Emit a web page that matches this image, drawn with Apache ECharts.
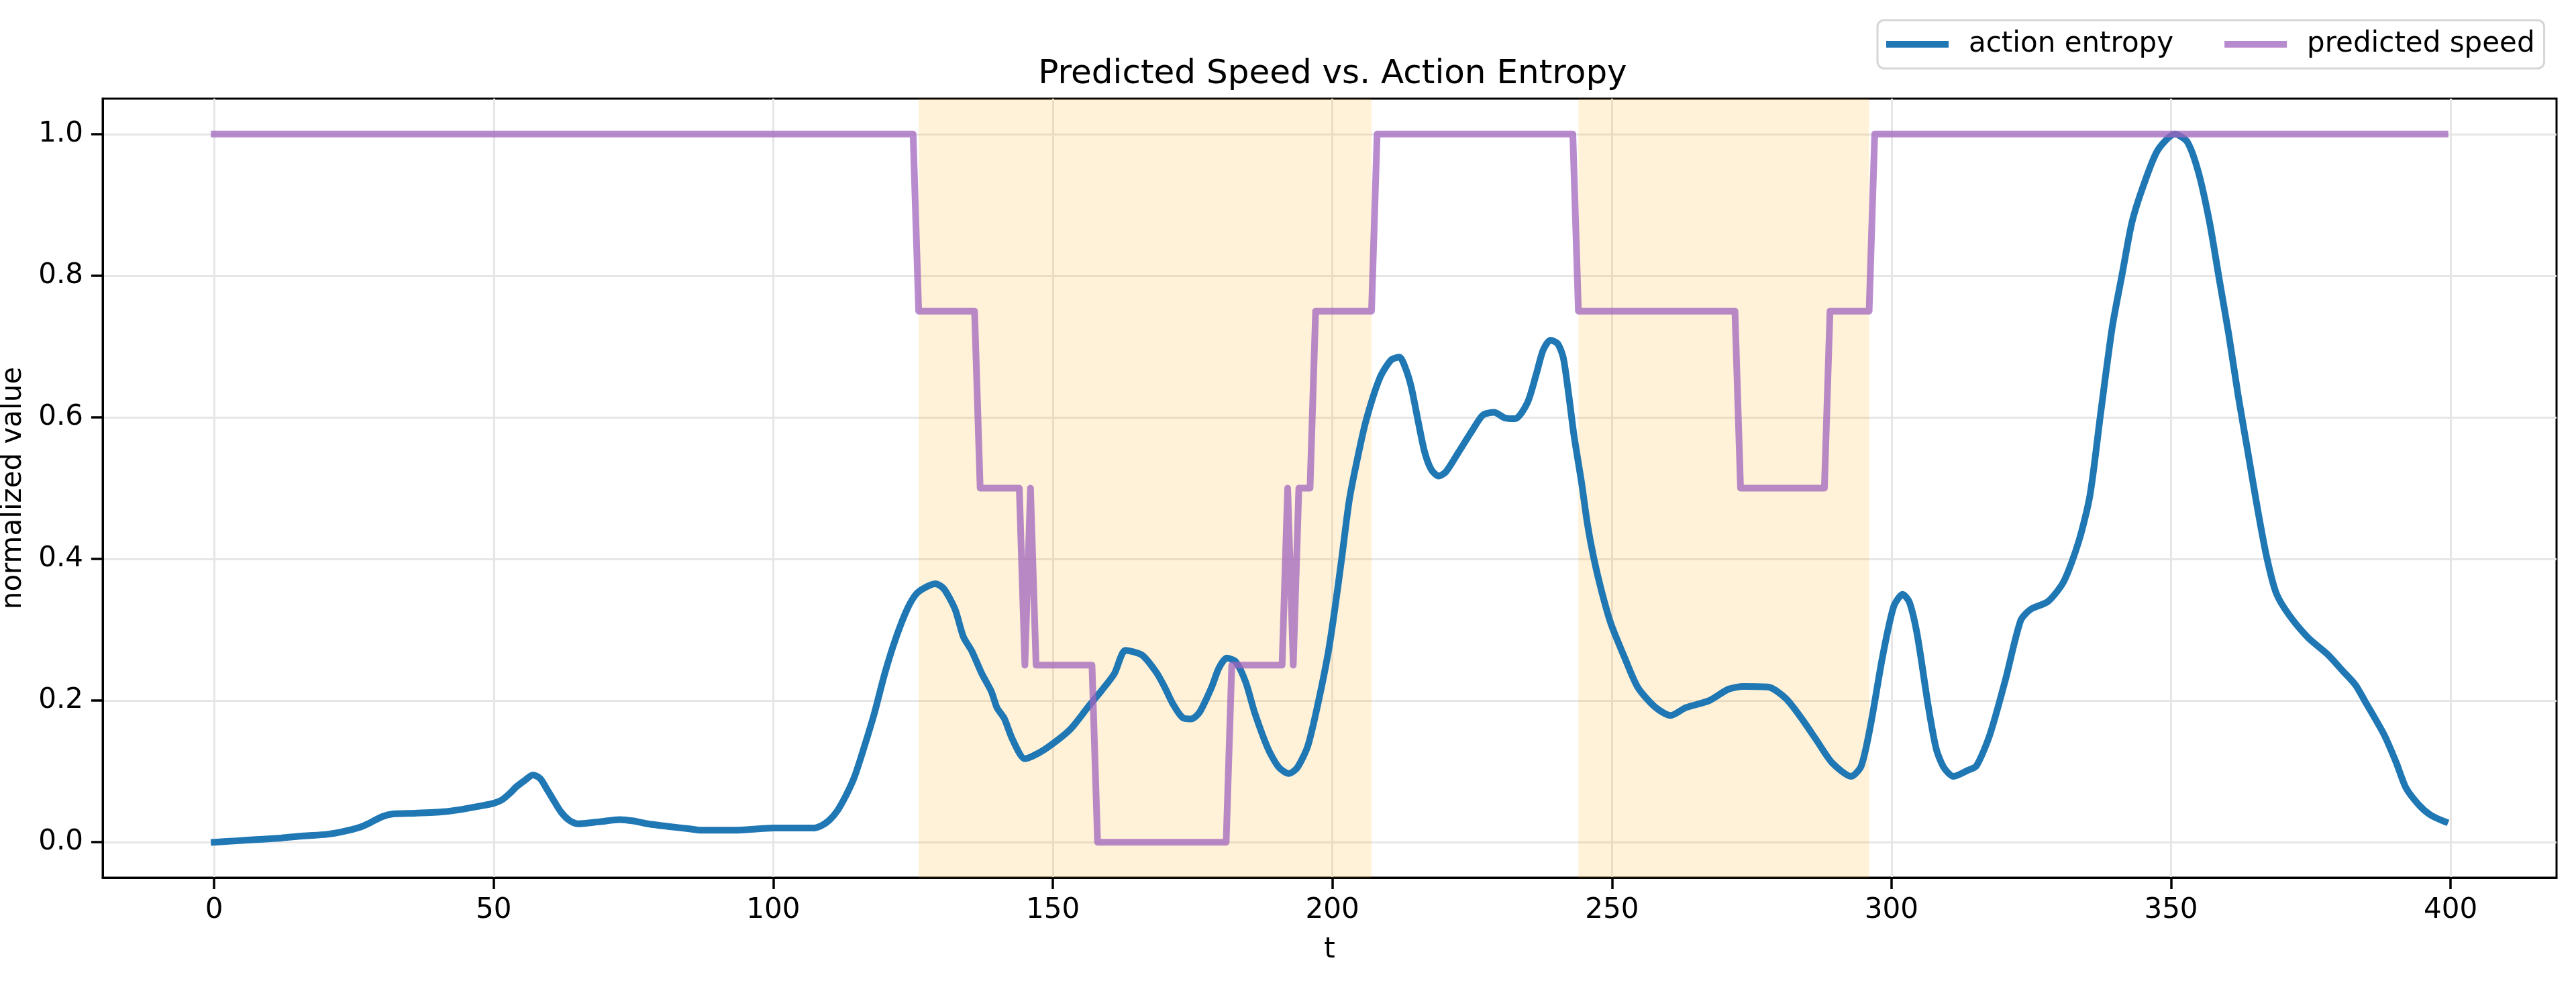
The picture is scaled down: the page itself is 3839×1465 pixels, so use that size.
<!DOCTYPE html>
<html lang="en">
<head>
    <meta charset="utf-8">
    <title>Predicted Speed vs. Action Entropy</title>
    <script src="https://cdn.jsdelivr.net/npm/echarts@6/dist/echarts.min.js"></script>
    <style type="text/css">
        html, body {margin: 0; padding: 0; background: #fff;}
        #chart {width: 3839px; height: 1465px;}
    </style>
</head>
<body>
    <div id="chart"></div>
    <script>
        // action entropy (t, value)
        var entropyT = [0, 4, 8, 12, 16, 20, 23, 26, 28, 30, 32, 36, 41, 44, 47.5, 50, 51.5, 53, 54, 55.5,
            57, 58.3, 59.5, 60.5, 62, 63.5, 65, 69, 72.5, 75, 77.5, 81.5, 85, 87, 93, 100, 107, 108.5, 110, 111.5,
            113, 114.5, 116, 118, 120, 122, 124, 125.5, 127, 129, 130.5, 132.5, 134, 135.5, 137.3, 139, 140, 141.3, 142.8, 145,
            147.7, 150.8, 153.3, 156.3, 158.8, 161, 163, 166, 168.5, 170, 171.5, 173.2, 174.7, 176.2, 178.4, 179.7, 181.1, 182.7, 184.5, 186.1,
            188.5, 190.4, 192.2, 193.7, 195.6, 197.4, 199.3, 200.5, 201.7, 203, 204.3, 206, 208.5, 210.5, 212, 213, 214.1, 215.3,
            216.5, 217.7, 219, 220.3, 222.5, 224.9, 226.9, 228.9, 230.9, 232.7, 234.9, 236.5, 237.7, 239, 240.3, 241.3, 242.3, 243.2,
            244.6, 245.6, 246.7, 248.1, 249.8, 252.2, 254.6, 257.7, 260.5, 263.2, 267.4, 270.8, 273.6, 278, 281.1, 283.9, 286.6, 289.4,
            292.8, 294.6, 296.3, 298.4, 300.4, 302, 303.2, 304.6, 306.6, 308, 309.4, 311.1, 313.5, 315.2, 317.6, 320.4, 323.1, 324.9,
            328, 330.8, 333.5, 335.5, 337.4, 339.5, 341.3, 343, 345, 347.6, 350.7, 352.9, 354.9, 356.9, 358.6, 360.3, 362, 363.7,
            365.4, 367.1, 368.8, 371.1, 374.5, 377.9, 380.7, 383, 384.7, 388.1, 390.3, 392, 394.3, 396.5, 399];
        var entropyV = [0.000, 0.002, 0.004, 0.006, 0.009, 0.011, 0.015, 0.021, 0.028, 0.036, 0.040, 0.041, 0.043, 0.046, 0.051, 0.055, 0.060, 0.070, 0.078, 0.087,
            0.095, 0.090, 0.075, 0.062, 0.043, 0.031, 0.026, 0.029, 0.032, 0.030, 0.026, 0.022, 0.019, 0.017, 0.017, 0.020, 0.020, 0.023, 0.031, 0.045,
            0.066, 0.092, 0.128, 0.180, 0.240, 0.290, 0.330, 0.350, 0.359, 0.365, 0.358, 0.329, 0.290, 0.270, 0.238, 0.213, 0.190, 0.175, 0.145, 0.118,
            0.127, 0.144, 0.161, 0.191, 0.215, 0.238, 0.271, 0.264, 0.240, 0.219, 0.195, 0.176, 0.174, 0.183, 0.219, 0.246, 0.260, 0.255, 0.226, 0.183,
            0.132, 0.106, 0.097, 0.105, 0.136, 0.195, 0.270, 0.333, 0.403, 0.482, 0.535, 0.595, 0.656, 0.681, 0.685, 0.671, 0.643, 0.596,
            0.551, 0.526, 0.517, 0.523, 0.550, 0.580, 0.603, 0.607, 0.599, 0.598, 0.621, 0.662, 0.695, 0.709, 0.704, 0.684, 0.630, 0.575,
            0.506, 0.450, 0.403, 0.356, 0.309, 0.262, 0.219, 0.191, 0.179, 0.190, 0.200, 0.216, 0.220, 0.219, 0.203, 0.175, 0.144, 0.112,
            0.093, 0.108, 0.167, 0.262, 0.333, 0.350, 0.339, 0.293, 0.191, 0.132, 0.105, 0.093, 0.101, 0.108, 0.152, 0.230, 0.313, 0.329,
            0.340, 0.368, 0.425, 0.490, 0.605, 0.728, 0.804, 0.875, 0.926, 0.977, 1.000, 0.989, 0.946, 0.875, 0.796, 0.718, 0.631, 0.553,
            0.474, 0.403, 0.352, 0.321, 0.289, 0.266, 0.242, 0.222, 0.199, 0.152, 0.112, 0.077, 0.053, 0.038, 0.029];

        // predicted speed, step corners (t, value)
        var speedT = [0, 125, 126, 136, 137, 144, 145, 146, 147, 157, 158, 181, 182, 191, 192, 193, 194, 196, 197, 207,
            208, 243, 244, 272, 273, 288, 289, 296, 297, 399];
        var speedV = [1, 1, 0.75, 0.75, 0.5, 0.5, 0.25, 0.5, 0.25, 0.25, 0, 0, 0.25, 0.25, 0.5, 0.25, 0.5, 0.5, 0.75, 0.75,
            1, 1, 0.75, 0.75, 0.5, 0.5, 0.75, 0.75, 1, 1];

        // slowed-down spans
        var shadeSpans = [[126, 207], [244, 296]];

        var xTicks = [0, 50, 100, 150, 200, 250, 300, 350, 400];
        var yTicks = [0, 0.2, 0.4, 0.6, 0.8, 1.0];

        var font = 'DejaVu Sans';
        var blue = '#1f77b4', purple = 'rgba(160,100,190,0.75)';

        var zip = function(xs, ys) {
            return xs.map(function(x, i) { return [x, ys[i]]; });
        };

        var chart = echarts.init(document.getElementById('chart'), null, {width: 3839, height: 1465});
        chart.setOption({
            animation: false,
            backgroundColor: '#fff',
            textStyle: {fontFamily: font},
            title: {
                text: 'Predicted Speed vs. Action Entropy',
                left: 1981, top: 81, textAlign: 'center',
                textStyle: {fontFamily: font, fontSize: 50, fontWeight: 'normal', color: '#000'}
            },
            legend: {
                left: 2798, top: 30,
                padding: [12, 14, 12, 13],
                itemGap: 76, itemWidth: 93, itemHeight: 10,
                backgroundColor: '#fff',
                borderColor: '#d6d6d6', borderWidth: 3, borderRadius: 10,
                textStyle: {fontFamily: font, fontSize: 42, color: '#000', padding: [0, 0, 0, 25], lineHeight: 48},
                data: [
                    {name: 'action entropy', icon: 'rect'},
                    {name: 'predicted speed', icon: 'rect'}
                ]
            },
            grid: {
                left: 153, right: 29, top: 147, bottom: 157,
                outerBoundsMode: 'none',
                show: true, borderColor: '#000', borderWidth: 3
            },
            xAxis: {
                type: 'value', min: -19.95, max: 418.95,
                name: 't', nameLocation: 'middle', nameGap: 87,
                nameTextStyle: {fontFamily: font, fontSize: 42, color: '#000'},
                axisLine: {show: true, onZero: false, lineStyle: {color: '#000', width: 3}},
                axisTick: {show: true, length: 17, lineStyle: {color: '#000', width: 3.5}, customValues: xTicks},
                axisLabel: {fontFamily: font, fontSize: 42, color: '#000', margin: 28, customValues: xTicks},
                splitLine: {show: true, lineStyle: {color: '#e6e6e6', width: 3}}
            },
            yAxis: {
                type: 'value', min: -0.05, max: 1.05,
                name: 'normalized value', nameLocation: 'middle', nameGap: 112,
                nameTextStyle: {fontFamily: font, fontSize: 42, color: '#000'},
                axisLine: {show: true, onZero: false, lineStyle: {color: '#000', width: 3}},
                axisTick: {show: true, length: 17, lineStyle: {color: '#000', width: 3.5}, customValues: yTicks},
                axisLabel: {
                    fontFamily: font, fontSize: 42, color: '#000', margin: 29, customValues: yTicks,
                    formatter: function(v) { return v.toFixed(1); }
                },
                splitLine: {show: true, lineStyle: {color: '#e6e6e6', width: 3}}
            },
            series: [
                {
                    name: 'shade', type: 'line', data: [], silent: true, z: 1,
                    markArea: {
                        silent: true,
                        itemStyle: {color: 'rgba(255,165,0,0.15)'},
                        data: shadeSpans.map(function(s) { return [{xAxis: s[0]}, {xAxis: s[1]}]; })
                    }
                },
                {
                    name: 'action entropy', type: 'line', z: 2,
                    data: zip(entropyT, entropyV),
                    showSymbol: false, smooth: 0.25,
                    color: blue,
                    lineStyle: {color: blue, width: 10, cap: 'square', join: 'round'}
                },
                {
                    name: 'predicted speed', type: 'line', z: 3,
                    data: zip(speedT, speedV),
                    showSymbol: false,
                    color: purple,
                    lineStyle: {color: purple, width: 10, cap: 'square', join: 'round'}
                }
            ]
        });
    </script>
</body>
</html>
